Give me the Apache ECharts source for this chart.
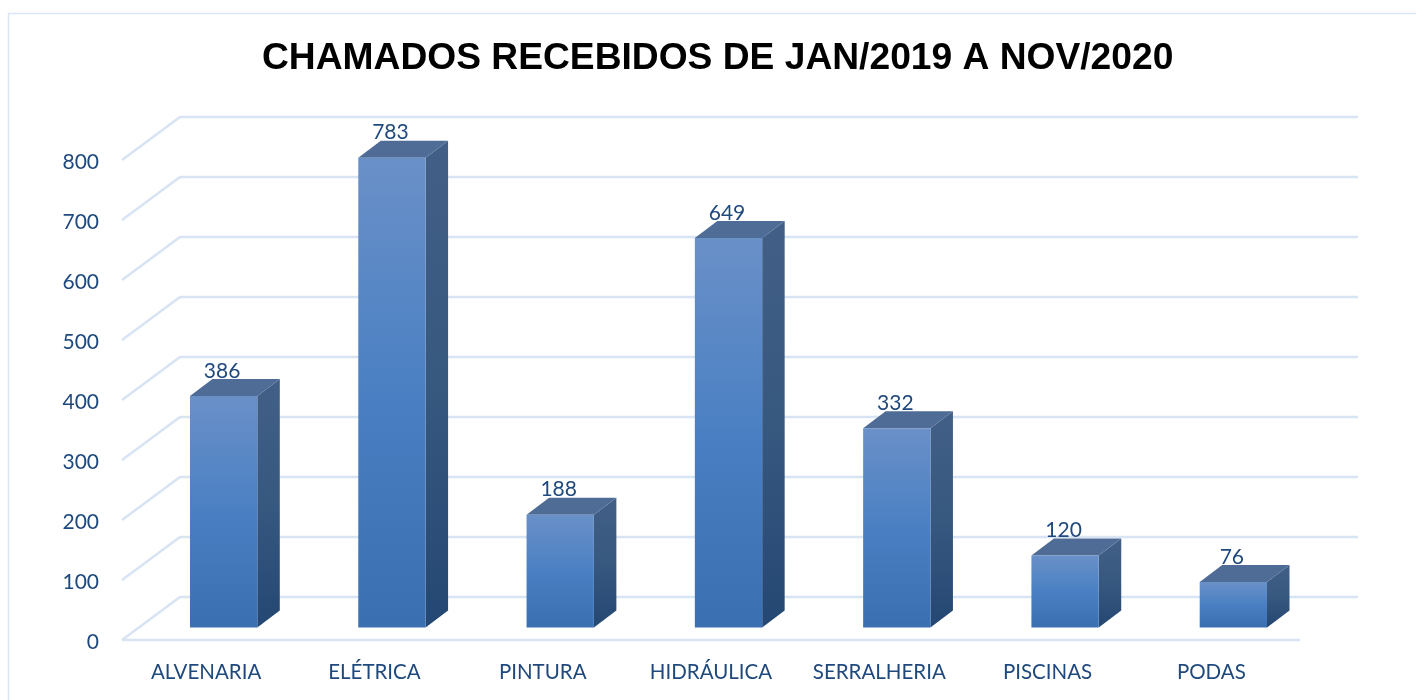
<!DOCTYPE html>
<html><head><meta charset="utf-8">
<style>html,body{margin:0;padding:0;background:#fff}#c{width:1416px;height:700px}</style>
<script src="https://cdn.jsdelivr.net/npm/echarts@6/dist/echarts.min.js"></script>
</head><body><div id="c"></div>
<script>
const titleText = 'CHAMADOS RECEBIDOS DE JAN/2019 A NOV/2020';
const categories = ['ALVENARIA','ELÉTRICA','PINTURA','HIDRÁULICA','SERRALHERIA','PISCINAS','PODAS'];
const chamados = [386,783,188,649,332,120,76];
const yTicks = [0,100,200,300,400,500,600,700,800];

const chart = echarts.init(document.getElementById('c'), null, {renderer:'canvas'});
const lineColor = '#d8e4f4', textColor = '#1f497d';
const wallDx = 58, wallDy = -43;
const barOx = 17.5, barOy = -12.5, depthX = 22.5, depthY = -17, barRatio = 0.4;
const vGrad = (stops) => new echarts.graphic.LinearGradient(0,0,0,1,stops.map((c,i)=>({offset:i/(stops.length-1),color:c})));

chart.setOption({
  animation:false,
  backgroundColor:'#fff',
  title:{text:titleText,left:262,top:40,padding:0,itemGap:0,
    textStyle:{fontFamily:'Liberation Sans',fontWeight:'bold',fontSize:37.2,color:'#000'}},
  graphic:[
    {type:'polyline',silent:true,shape:{points:[[8.5,700],[8.5,13.5],[1416,13.5]]},style:{stroke:'#dce7f5',lineWidth:1.5,fill:null}}
  ],
  grid:{left:122,right:116,top:160,bottom:60},
  xAxis:{type:'category',data:categories,axisLine:{show:false},axisTick:{show:false},
    axisLabel:{margin:22,fontFamily:'Lato',fontSize:20.5,color:textColor,interval:0,
      formatter:v=>v==='PODAS'?'{s|'+v+'}':v,
      rich:{s:{fontFamily:'Lato',fontSize:20.5,color:textColor,padding:[0,9,0,0]}}}},
  yAxis:{type:'value',min:0,max:800,interval:100,axisLine:{show:false},axisTick:{show:false},splitLine:{show:false},
    axisLabel:{margin:23,fontFamily:'Lato',fontSize:21,color:textColor,
      formatter:v=>'{n|'+v+'}',
      rich:{n:{fontFamily:'Lato',fontSize:21,color:textColor,padding:[5,0,0,0]}}}},
  series:[
    {type:'custom',silent:true,z:1,data:yTicks.map(t=>[0,t]),
     renderItem(params,api){
       const y=api.coord([0,api.value(1)])[1];
       const cs=params.coordSys;
       const st={stroke:lineColor,lineWidth:2.5,fill:null};
       const kids=[{type:'polyline',shape:{points:[[cs.x,y],[cs.x+wallDx,y+wallDy],[cs.x+cs.width+wallDx,y+wallDy]]},style:st}];
       if(api.value(1)===0) kids.push({type:'line',shape:{x1:cs.x,y1:y,x2:cs.x+cs.width,y2:y},style:{stroke:lineColor,lineWidth:2.5}});
       return {type:'group',children:kids};
     }},
    {type:'custom',silent:true,z:2,data:chamados.map((v,i)=>[i,v]),
     renderItem(params,api){
       const i=api.value(0),v=api.value(1);
       const base=api.coord([i,0]),top=api.coord([i,v]);
       const w=api.size([1,0])[0]*barRatio;
       const x0=base[0]+barOx-w/2,x1=x0+w,y0=base[1]+barOy,y1=top[1]+barOy;
       const poly=(pts,fill)=>({type:'polygon',shape:{points:pts},style:{fill}});
       return {type:'group',children:[
         {type:'text',style:{text:String(v),x:(x0+x1)/2-1.5,y:y1-25,align:'center',verticalAlign:'middle',fontFamily:'Lato',fontSize:21,fill:textColor}},
         poly([[x1,y0],[x1+depthX,y0+depthY],[x1+depthX,y1+depthY],[x1,y1]],vGrad(['#425f87','#37587f','#244773'])),
         poly([[x0,y1],[x0+depthX,y1+depthY],[x1+depthX,y1+depthY],[x1,y1]],'#4f6c96'),
         {type:'rect',shape:{x:x0,y:y1,width:w,height:y0-y1},style:{fill:vGrad(['#6a90c8','#4a80c3','#3a70b1'])}}
       ]};
     }}
  ]
});
</script></body></html>
